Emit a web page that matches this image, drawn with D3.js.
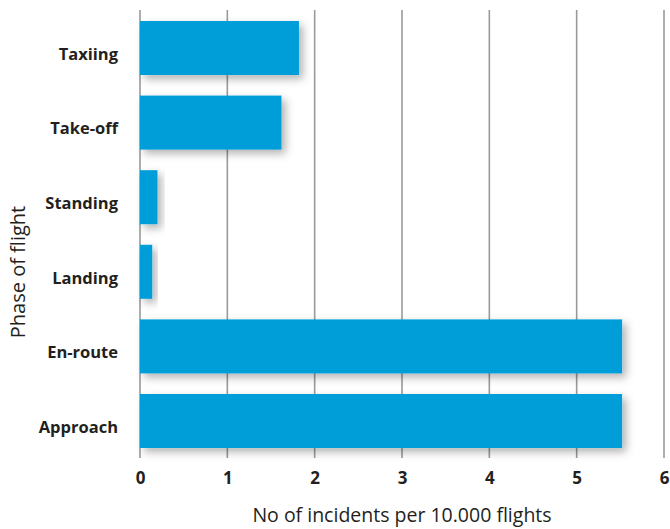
<!DOCTYPE html>
<html><head><meta charset="utf-8">
<script src="https://cdn.jsdelivr.net/npm/d3@7"></script>
<style>body{margin:0;background:#fff}svg{display:block}</style>
</head><body><svg id="c" width="670" height="529"></svg>
<script>
const categories = ["Taxiing","Take-off","Standing","Landing","En-route","Approach"];
const values = [1.82, 1.62, 0.20, 0.14, 5.52, 5.52];
const xTicks = [0,1,2,3,4,5,6];
const xTitle = "No of incidents per 10.000 flights";
const yTitle = "Phase of flight";

const svg = d3.select("#c");
const x = d3.scaleLinear().domain([0,6]).range([140,664]);
const y = d3.scaleBand().domain(categories).range([10.7,458.3]).paddingInner(0.276).paddingOuter(0.138);

const defs = svg.append("defs");
const f = defs.append("filter").attr("id","sh").attr("x","-20%").attr("y","-40%").attr("width","160%").attr("height","200%");
f.append("feDropShadow").attr("dx",4).attr("dy",4).attr("stdDeviation",4).attr("flood-color","#000").attr("flood-opacity",0.3);

// gridlines
svg.append("g").selectAll("line").data(xTicks).join("line")
  .attr("x1",d=>x(d)).attr("x2",d=>x(d)).attr("y1",10).attr("y2",458)
  .attr("stroke","#9a9a9a").attr("stroke-width",1.6);

// bars
svg.append("g").selectAll("rect").data(categories).join("rect")
  .attr("x",x(0)).attr("y",d=>y(d)).attr("width",(d,i)=>x(values[i])-x(0)).attr("height",y.bandwidth())
  .attr("fill","#009ed9").attr("filter","url(#sh)");

// x tick labels
const xa = d3.axisBottom(x).tickValues(xTicks).tickSize(0).tickPadding(0).tickFormat(d3.format("d"));
const gx = svg.append("g").attr("transform","translate(0,484)").call(xa);
gx.select(".domain").remove();
gx.selectAll("text").attr("dy",0).attr("font-family","'Open Sans', sans-serif").attr("font-weight","bold").attr("font-size",17).attr("fill","#231f20");

// y labels
const ya = d3.axisLeft(y).tickSize(0).tickPadding(0);
const gy = svg.append("g").attr("transform","translate(118,6)").call(ya);
gy.select(".domain").remove();
gy.selectAll("text").attr("dy","0.35em").attr("font-family","'Open Sans', sans-serif").attr("font-weight","bold").attr("font-size",16.5).attr("fill","#231f20");

svg.append("text").attr("x",402).attr("y",522).attr("text-anchor","middle")
  .attr("font-family","'Open Sans', sans-serif").attr("font-size",19.5).attr("fill","#231f20").text(xTitle);
svg.append("text").attr("transform","translate(25,272) rotate(-90)").attr("text-anchor","middle")
  .attr("font-family","'Open Sans', sans-serif").attr("font-size",20).attr("fill","#231f20").text(yTitle);
</script></body></html>
